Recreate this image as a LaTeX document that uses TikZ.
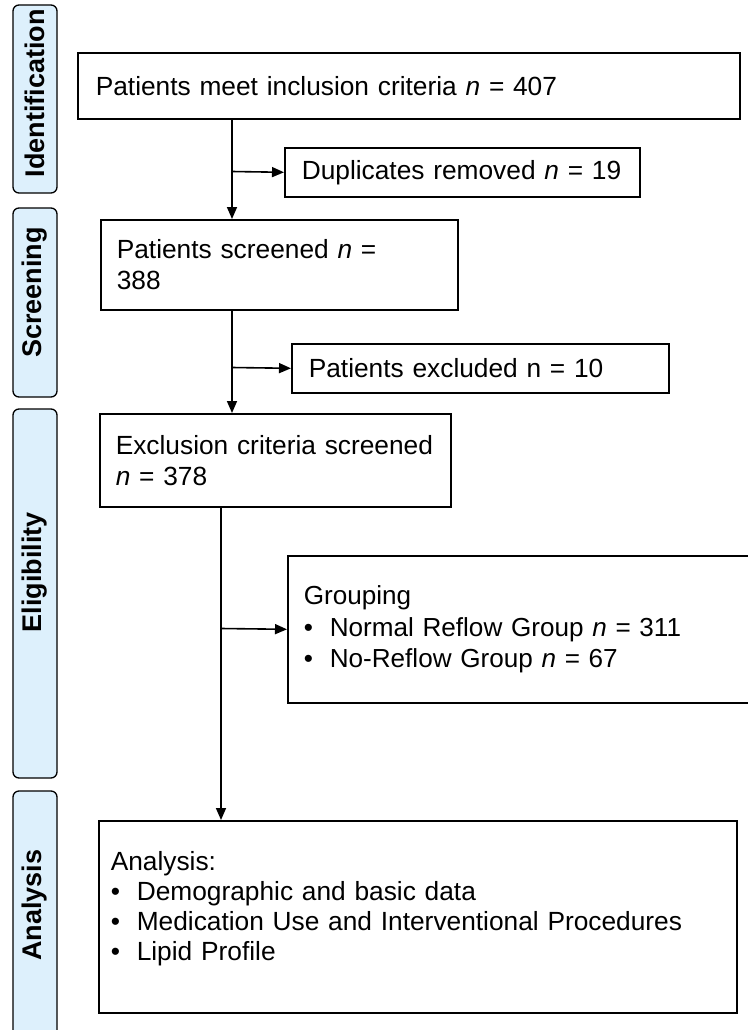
\documentclass[tikz,border=0pt]{standalone}
\usepackage{fontspec}
\setmainfont{Liberation Sans}
\usepackage{xcolor}
\usepackage{tikz}
\usetikzlibrary{arrows.meta}

\definecolor{phaseblue}{RGB}{221,240,252}
\newcommand{\bul}{\makebox[26pt][l]{\textbullet}}
\newcommand{\fsz}[2][31]{\fontsize{#2pt}{#1pt}\selectfont}

\begin{document}
\begin{tikzpicture}[x=1pt,y=-1pt,
    >={Triangle[length=12pt,width=10pt]},
    line width=1.6pt,
    font=\fsz{26.3},
    phase/.style={draw, line width=1.3pt, rounded corners=6pt, fill=phaseblue,
        font=\fsz{27}\bfseries, rotate=90,
        minimum height=44pt, inner sep=0pt},
    flowbox/.style={draw, line width=1.6pt, anchor=north west, align=left,
        inner xsep=16pt, inner ysep=0pt}]
    \useasboundingbox (0,0) rectangle (747,1030);

    % Draw phase labels
    \node[phase, minimum width=188pt] (ident) at (35,99) {\hspace*{11pt}Identification};
    \node[phase, minimum width=189pt] (screen) at (35,302.5) {\hspace*{20pt}Screening};
    \node[phase, minimum width=369pt] (elig) at (35,593.5) {\hspace*{42pt}Eligibility};
    \node[phase, minimum width=245pt] (anal) at (35,913.5) {\hspace*{17pt}Analysis};

    % Draw boxes
    \node[flowbox, inner xsep=18pt, text width=626pt, minimum height=66pt] (incl) at (77,52)
        {\mbox{Patients meet inclusion criteria \textit{n} = 407}};
    \node[flowbox, inner xsep=17pt, text width=321pt, minimum height=49pt] (dup) at (284,147)
        {\mbox{Duplicates removed \textit{n} = 19}};
    \node[flowbox, text width=325pt, minimum height=90pt] (scr) at (100,219)
        {\mbox{Patients screened \textit{n} =}\\388};
    \node[flowbox, inner xsep=17pt, text width=343pt, minimum height=49pt] (excl) at (291,343)
        {\mbox{Patients excluded n = 10}};
    \node[flowbox, text width=319pt, minimum height=93pt] (exc) at (99,413)
        {\mbox{Exclusion criteria screened}\\\textit{n} = 378};
    \node[flowbox, font={\fsz[31.5]{26.1}}, text width=440pt, minimum height=147pt] (grp) at (287,555)
        {Grouping\\\bul Normal Reflow Group \textit{n} = 311\\\bul No-Reflow Group \textit{n} = 67};
    \node[flowbox, font={\fsz[30]{26.3}}, inner xsep=12pt, text width=614pt, minimum height=192pt] (res) at (98,820)
        {Analysis:\\\bul Demographic and basic data\\\bul \mbox{Medication Use and Interventional Procedures}\\\bul Lipid Profile\\[-8pt]\mbox{}};

    % Draw connectors
    \coordinate (j1) at (232,171.5);
    \coordinate (j2) at (232,367.5);
    \coordinate (j3) at (221,628.5);
    \draw[->] (incl.south -| j1) -- (scr.north -| j1);
    \draw[->] (j1) -- (dup.west);
    \draw[->] (scr.south -| j2) -- (exc.north -| j2);
    \draw[->] (j2) -- (excl.west);
    \draw[->] (exc.south -| j3) -- (res.north -| j3);
    \draw[->] (j3) -- (grp.west);
\end{tikzpicture}
\end{document}
